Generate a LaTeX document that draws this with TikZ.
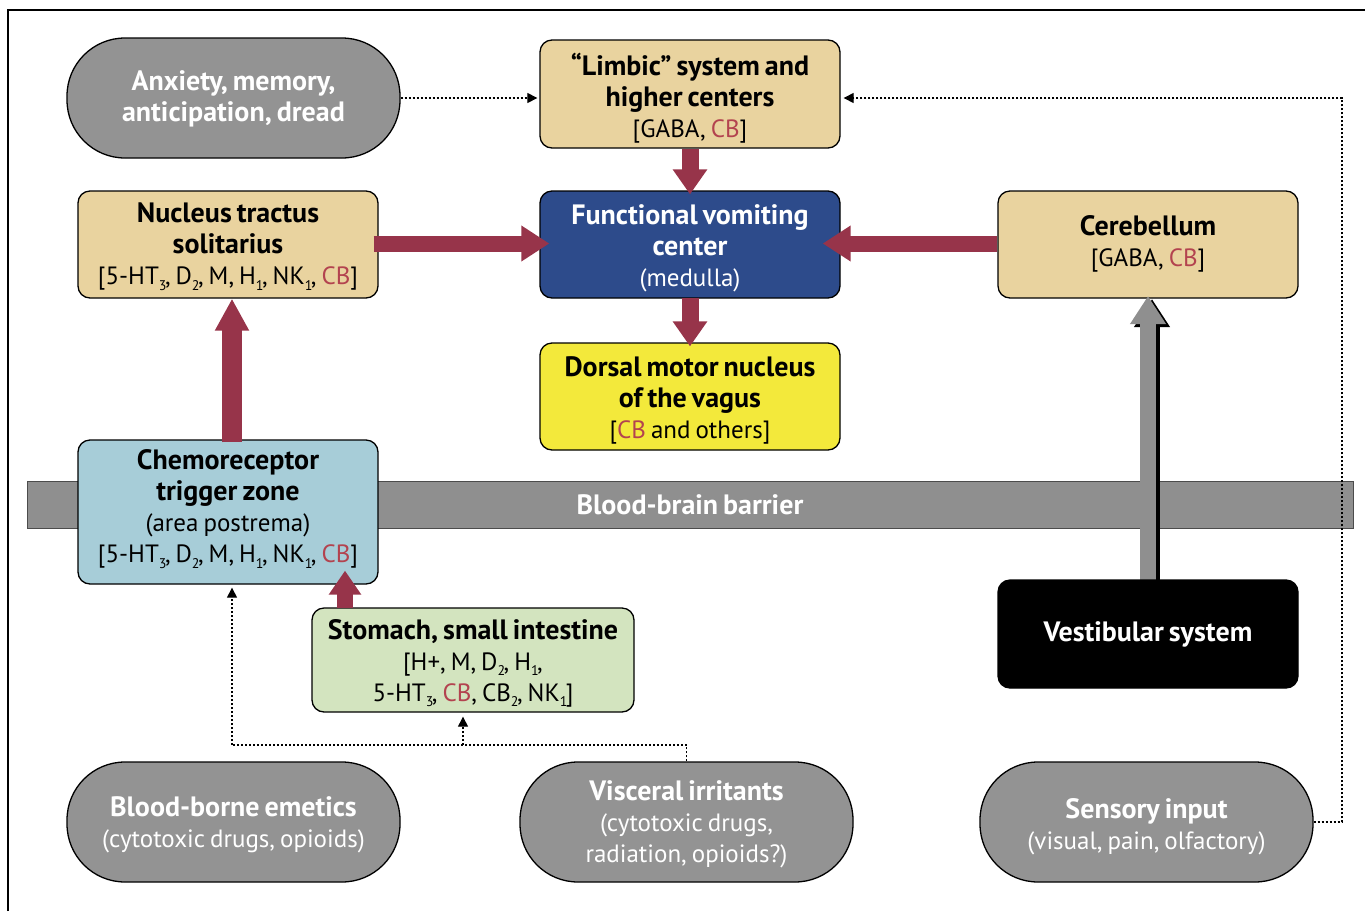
\documentclass[tikz,border=0pt]{standalone}
\usepackage{fontspec}
\setmainfont{PT Sans}
\usetikzlibrary{arrows.meta,calc}
\definecolor{tan}{HTML}{E9D39F}
\definecolor{fvcblue}{HTML}{2D4B8B}
\definecolor{dmnyellow}{HTML}{F3E93B}
\definecolor{ltblue}{HTML}{A7CDD8}
\definecolor{ltgreen}{HTML}{D3E4BF}
\definecolor{pillgray}{HTML}{939393}
\definecolor{bargray}{HTML}{8F8F8F}
\definecolor{maroon}{HTML}{97344A}
\definecolor{cbred}{HTML}{B3434F}
\newcommand\lsub[1]{\raisebox{-0.45ex}{\fontsize{14}{14}\selectfont #1}\kern-1.5pt}
\newcommand\cbr{\textcolor{cbred}{CB}}
\newcommand\bft{\fontsize{28}{31}\selectfont\bfseries}
\newcommand\regtxt{\fontsize{25}{31}\selectfont\setlength{\spaceskip}{5pt plus 2pt minus 1pt}}
\begin{document}
\begin{tikzpicture}[x=1pt,y=-1pt,
  txt/.style={font=\regtxt, align=center, inner sep=0pt},
  box/.style={draw=black, line width=1.3pt, rounded corners=12pt, minimum width=300pt, minimum height=107pt, inner sep=0pt},
  pill/.style={draw=black, line width=1.3pt, rounded corners=58pt, fill=pillgray, minimum width=333pt, minimum height=120pt, inner sep=0pt},
  wtxt/.style={txt, text=white},
  dotline/.style={line width=1.1pt, dash pattern=on 2pt off 2pt, -{Triangle[length=10pt,width=10pt]}},
  dotplain/.style={line width=1.1pt, dash pattern=on 2pt off 2pt},
  redarrow/.style={draw=maroon, line width=17pt, -{Triangle[length=25pt,width=33pt]}},
  grayarrow/.style={draw=bargray, line width=16pt, -{Triangle[length=28pt,width=34pt]}},
]
\useasboundingbox (0,0) rectangle (1365,911);
\draw[line width=1.5pt] (8,911) -- (8,10) -- (1365,10);

% blood-brain barrier
\node[txt, fill=bargray, draw=black!70, line width=1pt, minimum width=1326pt, minimum height=47pt, text=white] (bbb) at (690,504.5) {\bft Blood-brain barrier};

% boxes
\node[pill] (anx) at (233.5,98) {};
\node[wtxt] at ($(anx.center)+(0,1)$) {\bft Anxiety, memory,\\\bft anticipation, dread};

\node[box, fill=tan, minimum height=108pt] (lim) at (690,94) {};
\node[txt] at ($(lim.center)+(0,4)$) {\bft “Limbic” system and\\\bft higher centers\\{}[GABA, \cbr]};

\node[box, fill=tan] (nts) at (228,244.5) {};
\node[txt] at ($(nts.center)+(0,2)$) {\bft Nucleus tractus\\\bft solitarius\\{}[5-HT\lsub{3}, D\lsub{2}, M, H\lsub{1}, NK\lsub{1}, \cbr]};

\node[box, fill=fvcblue] (fvc) at (690,244.5) {};
\node[wtxt] at ($(fvc.center)+(0,4)$) {\bft Functional vomiting\\\bft center\\(medulla)};

\node[box, fill=tan] (cer) at (1148,244.5) {};
\node[txt] at ($(cer.center)+(0,-1)$) {\bft Cerebellum\\{}[GABA, \cbr]};

\node[box, fill=dmnyellow] (dmn) at (690,396.5) {};
\node[txt] at ($(dmn.center)+(0,4)$) {\bft Dorsal motor nucleus\\\bft of the vagus\\{}[\cbr{} and others]};

\node[box, fill=ltblue, minimum height=144pt] (ctz) at (228,512) {};
\node[txt] at ($(ctz.center)+(0,-3)$) {\bft Chemoreceptor\\\bft trigger zone\\(area postrema)\\{}[5-HT\lsub{3}, D\lsub{2}, M, H\lsub{1}, NK\lsub{1}, \cbr]};

\node[box, fill=ltgreen, minimum width=322pt, minimum height=104pt] (stom) at (473,660) {};
\node[txt] at ($(stom.center)+(0,3)$) {\bft Stomach, small intestine\\{}[H+, M, D\lsub{2}, H\lsub{1},\\5-HT\lsub{3}, \cbr, CB\lsub{2}, NK\lsub{1}]};

% gray arrow with shadow
\draw[grayarrow, draw=black, xshift=4pt, yshift=-3pt] (1148,583) -- (1148,296);
\draw[grayarrow] (1148,583) -- (1148,296);
\node[box, fill=black, minimum height=108pt] (vest) at (1148,634) {};
\node[wtxt] at (vest.center) {\bft Vestibular system};

\node[pill] (blood) at (233.5,822) {};
\node[wtxt] at ($(blood.center)+(0,3)$) {\bft Blood-borne emetics\\(cytotoxic drugs, opioids)};
\node[pill] (visc) at (686.5,822) {};
\node[wtxt] at ($(visc.center)+(0,2)$) {\bft Visceral irritants\\(cytotoxic drugs,\\radiation, opioids?)};
\node[pill] (sens) at (1146.5,822) {};
\node[wtxt] at ($(sens.center)+(0,5)$) {\bft Sensory input\\(visual, pain, olfactory)};

% red arrows
\draw[redarrow] (lim.south) -- ($(fvc.north)+(0,4)$);
\draw[redarrow] ($(fvc.south)+(0,-1)$) -- ($(dmn.north)+(0,4)$);
\draw[redarrow, line width=16pt, -{Triangle[length=28pt,width=34pt]}] ($(nts.east)+(-5,-1)$) -- ($(fvc.west)+(10,-1)$);
\draw[redarrow, line width=16pt, -{Triangle[length=28pt,width=34pt]}] ($(cer.west)+(0,-1)$) -- ($(fvc.east)+(-18,-1)$);
\draw[redarrow, line width=20pt, -{Triangle[length=32pt,width=32pt]}] ($(ctz.north)+(4,3)$) -- ($(nts.south)+(4,0)$);
\draw[redarrow, line width=16pt, -{Triangle[length=24pt,width=31pt]}] ($(stom.north)+(-128,1)$) -- ($(ctz.south)+(117,-14)$);

% dotted connectors
\draw[dotline, shorten >=2pt] (anx.east) -- (anx.east -| lim.west);
\coordinate (sr) at (1342,98);
\draw[dotline, shorten >=3pt] (sens.east) -| (sr) -- (sr -| lim.east);
\coordinate (j1) at (232,745);
\coordinate (j2) at (463,745);
\draw[dotplain] (visc.north) |- (j1);
\draw[dotline, shorten >=3pt] (j1) -- (j1 |- ctz.south);
\draw[dotline, shorten >=4pt] (j2) -- (j2 |- stom.south);
\end{tikzpicture}
\end{document}
